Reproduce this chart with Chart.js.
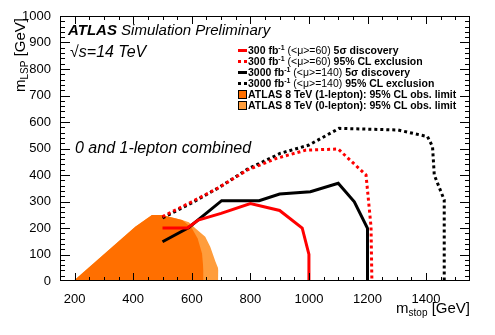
<!DOCTYPE html>
<html>
<head>
<meta charset="utf-8">
<script src="https://cdn.jsdelivr.net/npm/chart.js@4.4.1/dist/chart.umd.min.js"></script>
<style>
  body { margin: 0; background: #fff; }
  #wrap { position: relative; width: 495px; height: 335px; font-family: "Liberation Sans", Arial, sans-serif; }
  .txt { position: absolute; white-space: nowrap; color: #000; line-height: 1; }
  .leg { position: absolute; left: 238px; font-size: 10.5px; line-height: 11px; height: 11px; white-space: nowrap; }
  .leg b { font-weight: bold; }
  .leg sup { font-size: 7px; position: relative; top: -4px; vertical-align: baseline; line-height: 0; }
  .mk { display: inline-block; width: 9px; vertical-align: middle; margin-right: 1px; position: relative; top: -1px; }
  sub { font-size: 10px; position: relative; top: 3px; vertical-align: baseline; line-height: 0; }
</style>
</head>
<body>
<div id="wrap">
  <canvas id="chart1" width="495" height="335"></canvas>

  <div class="txt" style="left:68px; top:22px; font-size:15px;"><b><i>ATLAS</i></b> <i>Simulation Preliminary</i></div>
  <div class="txt" style="left:70px; top:44px; font-size:16px;"><i>√s=14 TeV</i></div>
  <div class="txt" style="left:75px; top:140px; font-size:16px;"><i>0 and 1-lepton combined</i></div>

  <div class="leg" style="top:45px;"><span class="mk" style="height:3px;background:#ff0000;"></span><b>300 fb<sup>-1</sup></b> (&lt;μ&gt;=60) <b>5σ discovery</b></div>
  <div class="leg" style="top:56px;"><span class="mk" style="height:3px;background:repeating-linear-gradient(90deg,#ff0000 0 3px,transparent 3px 6px);"></span><b>300 fb<sup>-1</sup></b> (&lt;μ&gt;=60) <b>95% CL exclusion</b></div>
  <div class="leg" style="top:67px;"><span class="mk" style="height:3px;background:#000;"></span><b>3000 fb<sup>-1</sup></b> (&lt;μ&gt;=140) <b>5σ discovery</b></div>
  <div class="leg" style="top:78px;"><span class="mk" style="height:3px;background:repeating-linear-gradient(90deg,#000 0 3px,transparent 3px 6px);"></span><b>3000 fb<sup>-1</sup></b> (&lt;μ&gt;=140) <b>95% CL exclusion</b></div>
  <div class="leg" style="top:89px;"><span class="mk" style="height:7px;width:7px;border:1px solid #000;background:#ff6f00;"></span><b>ATLAS 8 TeV (1-lepton): 95% CL obs. limit</b></div>
  <div class="leg" style="top:100px;"><span class="mk" style="height:7px;width:7px;border:1px solid #000;background:#ff9d3c;"></span><b>ATLAS 8 TeV (0-lepton): 95% CL obs. limit</b></div>

  <div class="txt" style="right:25px; top:300px; font-size:15px;">m<sub>stop</sub> [GeV]</div>
  <div class="txt" style="left:12px; top:118px; width:100px; text-align:right; font-size:15px; line-height:15px; transform-origin:0 0; transform:rotate(-90deg);">m<sub>LSP</sub> [GeV]</div>
</div>

<script>
// axis ticks
var xTickValues = [200, 400, 600, 800, 1000, 1200, 1400];
var yTickValues = [0, 100, 200, 300, 400, 500, 600, 700, 800, 900, 1000];

// 300 fb-1 5 sigma discovery
var disc300Stop = [500, 585, 622, 700, 800, 900, 977, 1000, 1000];
var disc300Lsp  = [200, 200, 230, 255, 292, 266, 200, 100, 0];

// 300 fb-1 95% CL exclusion
var excl300Stop = [500, 600, 688, 790, 890, 990, 1100, 1195, 1212, 1215];
var excl300Lsp  = [243, 299, 350, 419, 463, 494, 498, 400, 205, 0];

// 3000 fb-1 5 sigma discovery
var disc3000Stop = [500, 590, 702, 830, 900, 1005, 1100, 1155, 1200, 1200];
var disc3000Lsp  = [148, 202, 303, 303, 328, 337, 369, 299, 199, 0];

// 3000 fb-1 95% CL exclusion
var excl3000Stop = [500, 600, 692, 790, 903, 1000, 1103, 1303, 1405, 1422, 1428, 1462, 1462];
var excl3000Lsp  = [238, 295, 352, 422, 482, 513, 576, 570, 545, 507, 400, 306, 0];

// ATLAS 8 TeV limits
var lim1lepStop = [196, 407, 447, 464, 498, 567, 600, 620, 635, 640, 640];
var lim1lepLsp  = [0, 205, 236, 249, 249, 230, 200, 160, 104, 40, 0];
var lim0lepStop = [196, 407, 447, 464, 498, 567, 590, 612, 646, 663, 681, 692, 690];
var lim0lepLsp  = [0, 205, 236, 249, 249, 230, 222, 199, 167, 129, 73, 42, 0];


function pts(xs, ys) {
    return xs.map(function (v, i) { return {x: v, y: ys[i]}; });
}

function curve(xs, ys, color, dotted) {
    return {
        data: pts(xs, ys),
        showLine: true,
        borderColor: color,
        borderWidth: 3,
        borderDash: dotted ? [3, 3] : [],
        pointRadius: 0,
        fill: false,
        tension: 0
    };
}

function area(xs, ys, color) {
    return {
        data: pts(xs, ys),
        showLine: true,
        borderWidth: 0,
        borderColor: color,
        backgroundColor: color,
        pointRadius: 0,
        fill: 'origin',
        tension: 0
    };
}

var rootTicks = {
    id: 'rootTicks',
    afterDatasetsDraw: function (chart) {
        var ctx = chart.ctx, a = chart.chartArea, x = chart.scales.x, y = chart.scales.y;
        ctx.save();
        ctx.strokeStyle = '#000';
        ctx.lineWidth = 1;
        ctx.beginPath();
        for (var v = 200; v < 1550; v += 50) {
            var p = Math.round(x.getPixelForValue(v)) + 0.5;
            var len = (v % 200 === 0) ? 8 : 4;
            ctx.moveTo(p, a.bottom); ctx.lineTo(p, a.bottom - len);
            ctx.moveTo(p, a.top); ctx.lineTo(p, a.top + len);
        }
        for (var w = 20; w < 1000; w += 20) {
            var q = Math.round(y.getPixelForValue(w)) + 0.5;
            var l2 = (w % 100 === 0) ? 10 : 5;
            ctx.moveTo(a.left, q); ctx.lineTo(a.left + l2, q);
            ctx.moveTo(a.right, q); ctx.lineTo(a.right - l2, q);
        }
        ctx.stroke();
        ctx.strokeRect(Math.round(a.left) + 0.5, Math.round(a.top) + 0.5,
            Math.round(a.right - a.left) - 1, Math.round(a.bottom - a.top) - 1);
        ctx.restore();
    }
};

function plain(v) { return String(v); }

var canvas = document.getElementById('chart1').getContext('2d');

new Chart(canvas, {
    type: 'scatter',
    data: {
        datasets: [
            curve(disc300Stop, disc300Lsp, '#ff0000', false),
            curve(disc3000Stop, disc3000Lsp, '#000000', false),
            curve(excl300Stop, excl300Lsp, '#ff0000', true),
            curve(excl3000Stop, excl3000Lsp, '#000000', true),
            area(lim1lepStop, lim1lepLsp, '#ff6f00'),
            area(lim0lepStop, lim0lepLsp, '#ff9d3c')
        ]
    },
    options: {
        responsive: false,
        animation: false,
        layout: { padding: { left: 0, right: 25, top: 16, bottom: 0 } },
        plugins: { legend: { display: false }, tooltip: { enabled: false } },
        scales: {
            x: {
                type: 'linear',
                min: 150,
                max: 1550,
                grid: { display: false },
                border: { display: false },
                afterBuildTicks: function (s) { s.ticks = xTickValues.map(function (v) { return {value: v}; }); },
                afterFit: function (s) { s.height = 54; },
                ticks: { color: '#000', padding: 3, maxRotation: 0, callback: plain, font: { family: 'Liberation Sans', size: 13 } }
            },
            y: {
                type: 'linear',
                min: 0,
                max: 1000,
                grid: { display: false },
                border: { display: false },
                afterBuildTicks: function (s) { s.ticks = yTickValues.map(function (v) { return {value: v}; }); },
                afterFit: function (s) { s.width = 60; },
                ticks: { color: '#000', padding: 1, callback: plain, font: { family: 'Liberation Sans', size: 13 } }
            }
        }
    },
    plugins: [rootTicks]
});
</script>
</body>
</html>
